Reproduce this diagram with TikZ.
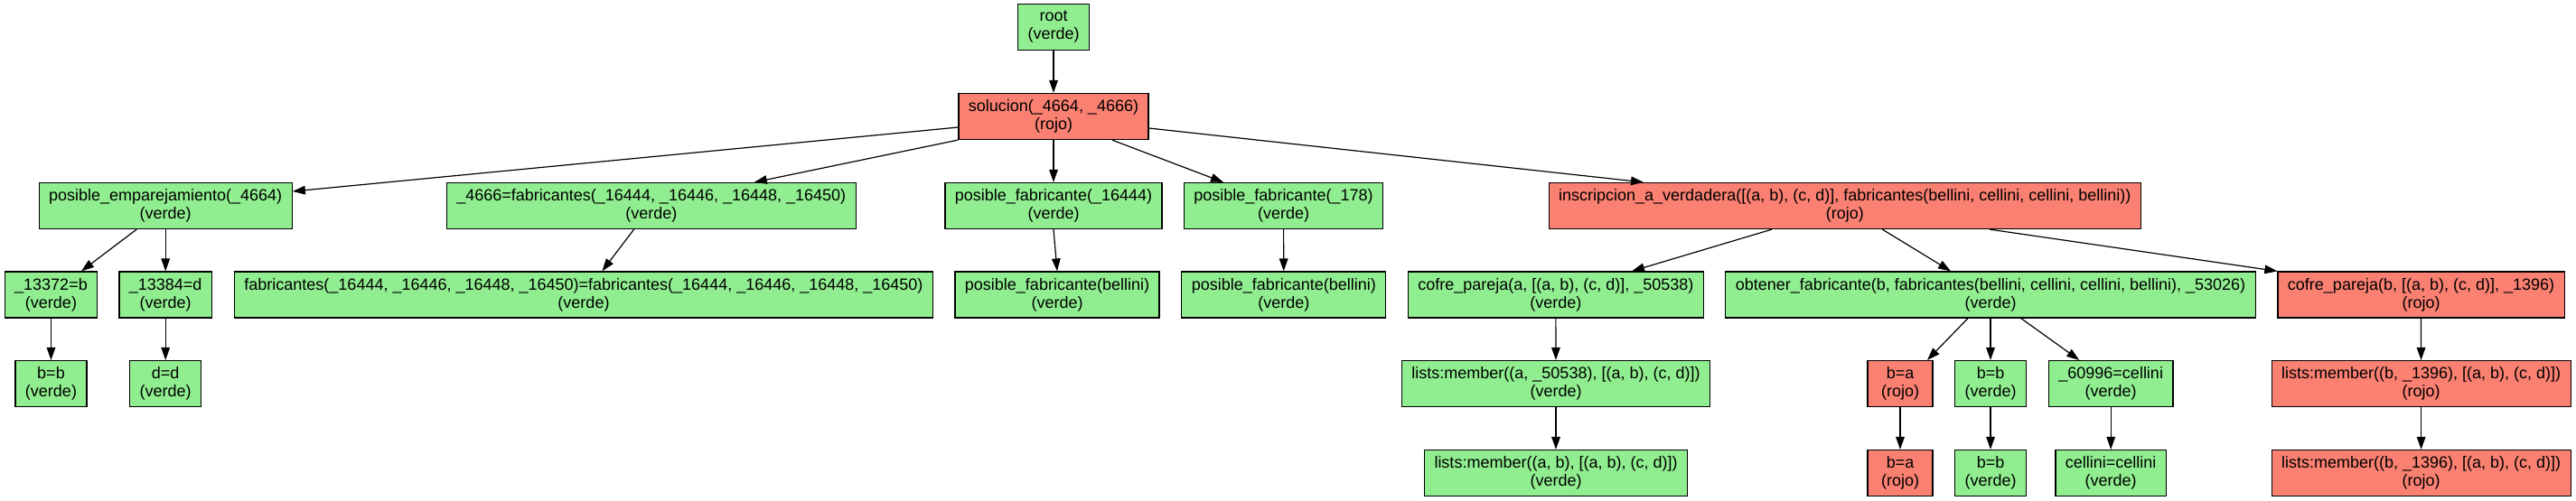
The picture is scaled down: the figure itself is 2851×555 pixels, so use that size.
\documentclass[tikz,border=0pt]{standalone}
\usepackage{fontspec}
\setmainfont{Liberation Sans}
\usepackage{xcolor}
\usetikzlibrary{arrows.meta}
\definecolor{nodoVerde}{HTML}{90EE90}
\definecolor{nodoRojo}{HTML}{FA8072}
\tikzset{
  verde/.style={rectangle,draw=black,line width=0.6pt,fill=nodoVerde,
    minimum width=36pt,minimum height=25.5pt,inner xsep=5.5pt,inner ysep=0pt,
    align=center,font=\fontsize{9}{10}\selectfont},
  rojo/.style={verde,fill=nodoRojo},
  arrow/.style={-{Triangle[length=7pt,width=4.8pt]},line width=0.6pt}
}
\begin{document}
\begin{tikzpicture}[x=0.5pt,y=-0.5pt]
\useasboundingbox (0,0) rectangle (2851,555);
\node[verde] (root) at (1166,30) {root\\(verde)};
\node[rojo] (sol) at (1166,129) {solucion(\_4664, \_4666)\\(rojo)};

\node[verde] (empar) at (183.2,228) {posible\_emparejamiento(\_4664)\\(verde)};
\node[verde] (fab4666) at (720.8,228) {\_4666=fabricantes(\_16444, \_16446, \_16448, \_16450)\\(verde)};
\node[verde] (posfabA) at (1166,228) {posible\_fabricante(\_16444)\\(verde)};
\node[verde] (posfabB) at (1420.5,228) {posible\_fabricante(\_178)\\(verde)};
\node[rojo] (inscr) at (2041.8,228) {inscripcion\_a\_verdadera([(a, b), (c, d)], fabricantes(bellini, cellini, cellini, bellini))\\(rojo)};

\node[verde] (var13372) at (56.5,326.5) {\_13372=b\\(verde)};
\node[verde] (var13384) at (183.2,326.5) {\_13384=d\\(verde)};
\node[verde] (fabigual) at (646,326.5) {fabricantes(\_16444, \_16446, \_16448, \_16450)=fabricantes(\_16444, \_16446, \_16448, \_16450)\\(verde)};
\node[verde] (bellA) at (1170,326.5) {posible\_fabricante(bellini)\\(verde)};
\node[verde] (bellB) at (1420.8,326.5) {posible\_fabricante(bellini)\\(verde)};
\node[verde] (cofreA) at (1721.8,326.5) {cofre\_pareja(a, [(a, b), (c, d)], \_50538)\\(verde)};
\node[verde] (obtener) at (2203,326.5) {obtener\_fabricante(b, fabricantes(bellini, cellini, cellini, bellini), \_53026)\\(verde)};
\node[rojo] (cofreB) at (2679.5,326.5) {cofre\_pareja(b, [(a, b), (c, d)], \_1396)\\(rojo)};

\node[verde] (bbA) at (56.5,425) {b=b\\(verde)};
\node[verde] (dd) at (183.2,425) {d=d\\(verde)};
\node[verde] (memberA) at (1722,425) {lists:member((a, \_50538), [(a, b), (c, d)])\\(verde)};
\node[rojo] (baA) at (2103,425) {b=a\\(rojo)};
\node[verde] (bbB) at (2203,425) {b=b\\(verde)};
\node[verde] (var60996) at (2336.2,425) {\_60996=cellini\\(verde)};
\node[rojo] (memberB) at (2679.6,425) {lists:member((b, \_1396), [(a, b), (c, d)])\\(rojo)};

\node[verde] (memberAB) at (1722,524) {lists:member((a, b), [(a, b), (c, d)])\\(verde)};
\node[rojo] (baB) at (2103,524) {b=a\\(rojo)};
\node[verde] (bbC) at (2203,524) {b=b\\(verde)};
\node[verde] (cellini) at (2336.2,524) {cellini=cellini\\(verde)};
\node[rojo] (memberBB) at (2679.6,524) {lists:member((b, \_1396), [(a, b), (c, d)])\\(rojo)};

\draw[arrow] (root) -- (sol);
\draw[arrow] ([yshift=-6pt]sol.west) -- ([yshift=8pt]empar.east);
\draw[arrow] (sol.south west) -- ([xshift=57pt]fab4666.north);
\draw[arrow] (sol) -- (posfabA);
\draw[arrow] ([xshift=32.4pt]sol.south) -- ([xshift=-33.25pt]posfabB.north);
\draw[arrow] ([yshift=-6.5pt]sol.east) -- ([xshift=-111.4pt]inscr.north);
\draw[arrow] ([xshift=-16pt]empar.south) -- ([xshift=16.75pt]var13372.north);
\draw[arrow] (empar) -- (var13384);
\draw[arrow] ([xshift=-9.6pt]fab4666.south) -- ([xshift=10.2pt]fabigual.north);
\draw[arrow] (posfabA.south) -- (bellA.north);
\draw[arrow] (posfabB) -- (bellB);
\draw[arrow] ([xshift=-40.4pt]inscr.south) -- ([xshift=42.1pt]cofreA.north);
\draw[arrow] ([xshift=20.75pt]inscr.south) -- ([xshift=-22pt]obtener.north);
\draw[arrow] ([xshift=80.1pt]inscr.south) -- (cofreB.north west);
\draw[arrow] (var13372) -- (bbA);
\draw[arrow] (var13384) -- (dd);
\draw[arrow] (cofreA) -- (memberA);
\draw[arrow] ([xshift=-12.5pt]obtener.south) -- ([xshift=15pt]baA.north);
\draw[arrow] (obtener) -- (bbB);
\draw[arrow] ([xshift=16.85pt]obtener.south) -- ([xshift=-17.5pt]var60996.north);
\draw[arrow] (cofreB) -- (memberB);
\draw[arrow] (memberA) -- (memberAB);
\draw[arrow] (baA) -- (baB);
\draw[arrow] (bbB) -- (bbC);
\draw[arrow] (var60996) -- (cellini);
\draw[arrow] (memberB) -- (memberBB);
\end{tikzpicture}
\end{document}
